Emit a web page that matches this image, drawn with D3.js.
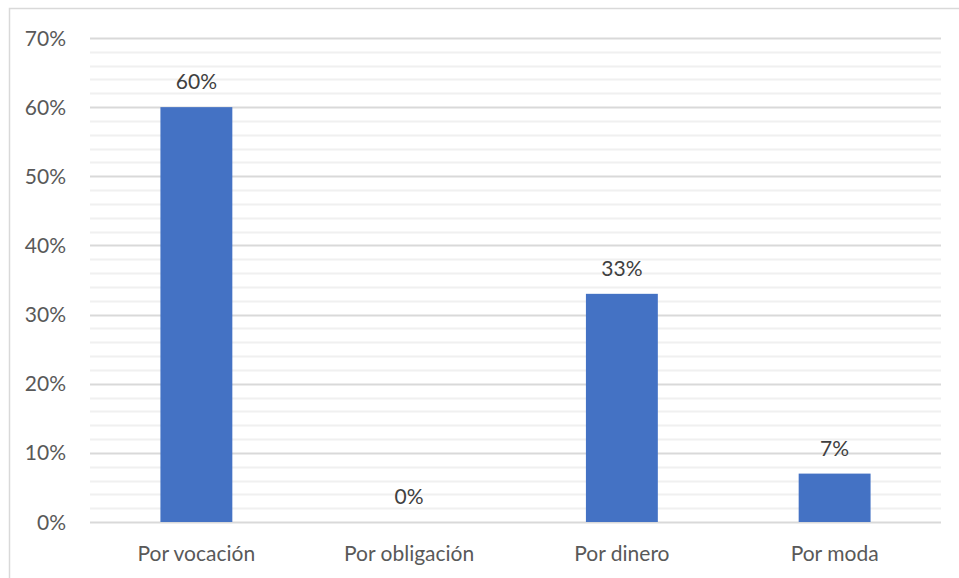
<!DOCTYPE html>
<html><head><meta charset="utf-8">
<script src="https://cdn.jsdelivr.net/npm/d3@7"></script>
<style>body{margin:0;background:#fff}svg{display:block}</style>
</head><body>
<script>
const categories = ["Por vocación", "Por obligación", "Por dinero", "Por moda"];
const values = [0.60, 0.00, 0.33, 0.07];
const majorTicks = [0, 0.1, 0.2, 0.3, 0.4, 0.5, 0.6, 0.7];
const minorTicks = d3.range(0, 36).map(i => i * 0.02).filter(v => Math.round(v * 100) % 10 !== 0);

const W = 959, H = 578;
const m = {left: 90, right: 18, top: 38, bottom: 56};
const svg = d3.select("body").append("svg").attr("width", W).attr("height", H);
const font = "Lato, 'Open Sans', sans-serif";

svg.append("rect").attr("x", 9.5).attr("y", 8.5).attr("width", W + 10).attr("height", H + 10)
  .attr("fill", "none").attr("stroke", "#d9d9d9").attr("stroke-width", 1.5);

const x = d3.scaleBand().domain(categories).range([m.left, W - m.right]).paddingInner(0.662).paddingOuter(0.331);
const y = d3.scaleLinear().domain([0, 0.7]).range([H - m.bottom, m.top]);

svg.append("g").selectAll("line").data(minorTicks).join("line")
  .attr("x1", m.left).attr("x2", W - m.right)
  .attr("y1", d => Math.round(y(d)) + 0.5).attr("y2", d => Math.round(y(d)) + 0.5)
  .attr("stroke", "#f0f0f0").attr("stroke-width", 2);

svg.append("g").selectAll("line").data(majorTicks).join("line")
  .attr("x1", m.left).attr("x2", W - m.right)
  .attr("y1", d => Math.round(y(d)) + 0.5).attr("y2", d => Math.round(y(d)) + 0.5)
  .attr("stroke", "#d9d9d9").attr("stroke-width", 2);

svg.append("g").selectAll("text").data(majorTicks).join("text")
  .attr("x", 66).attr("y", d => y(d)).attr("dy", "0.36em")
  .attr("text-anchor", "end").attr("font-family", font).attr("font-size", 21).attr("fill", "#595959")
  .text(d => d3.format(".0%")(d));

svg.append("g").selectAll("rect").data(values).join("rect")
  .attr("x", (d, i) => x(categories[i])).attr("width", x.bandwidth())
  .attr("y", d => y(d)).attr("height", d => y(0) - y(d))
  .attr("fill", "#4472c4");

svg.append("g").selectAll("text").data(values).join("text")
  .attr("x", (d, i) => x(categories[i]) + x.bandwidth() / 2).attr("y", d => y(d) - 18)
  .attr("text-anchor", "middle").attr("font-family", font).attr("font-size", 21).attr("fill", "#404040")
  .text(d => d3.format(".0%")(d));

svg.append("g").selectAll("text").data(categories).join("text")
  .attr("x", d => x(d) + x.bandwidth() / 2).attr("y", H - 17)
  .attr("text-anchor", "middle").attr("font-family", font).attr("font-size", 21).attr("fill", "#595959")
  .text(d => d);
</script>
</body></html>
